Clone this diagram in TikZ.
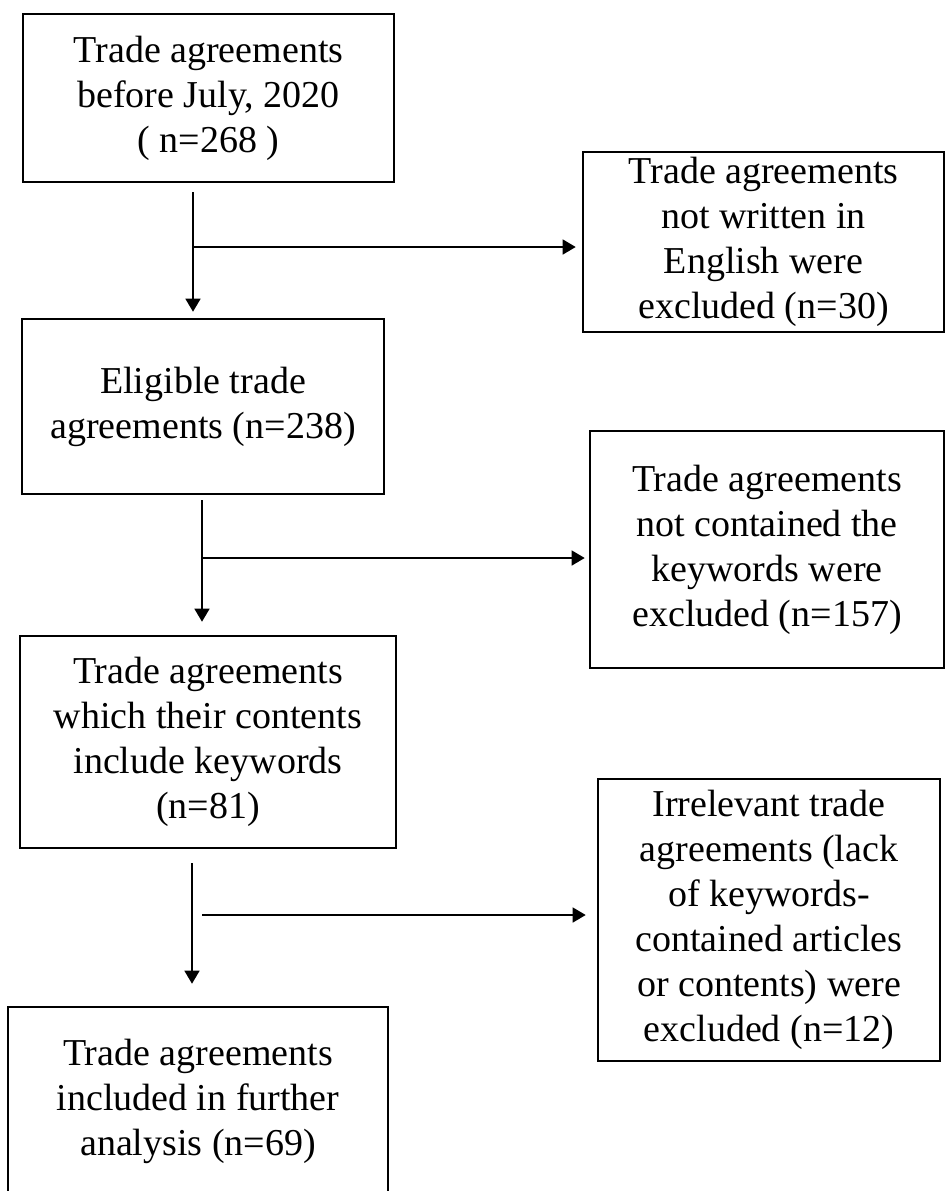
\documentclass[tikz,border=0pt]{standalone}
\usepackage{fontspec}
\setmainfont{Liberation Serif}
\usetikzlibrary{arrows.meta}

\begin{document}
\begin{tikzpicture}[x=0.5pt, y=-0.5pt, every node/.style={font=\fontsize{19}{22.5}\selectfont},
  stage/.style={draw, line width=1.3pt, align=center, inner xsep=2pt, inner ysep=0pt},
  flow/.style={-{Triangle[length=6.5pt, width=7.5pt]}, line width=0.7pt}]
  \useasboundingbox[fill=white] (0,0) rectangle (945,1191);
  \node[stage, minimum width=185.5pt, minimum height=84pt] (start) at (208.5,98) {Trade agreements\\before July, 2020\\( n=268 )};
  \node[stage, minimum width=181pt, minimum height=87.5pt] (eligible) at (203,406.5) {Eligible trade\\agreements (n=238)};
  \node[stage, minimum width=188pt, minimum height=106pt] (keywords) at (208,742) {Trade agreements\\which their contents\\include keywords\\(n=81)};
  \node[stage, minimum width=190pt, minimum height=94.5pt] (included) at (198,1101.5) {Trade agreements\\included in further\\analysis (n=69)};
  \node[stage, minimum width=180.5pt, minimum height=90pt] (nonenglish) at (763.5,242) {Trade agreements\\not written in\\English were\\excluded (n=30)};
  \node[stage, minimum width=177pt, minimum height=118.5pt] (nokeys) at (767,549.5) {Trade agreements\\not contained the\\keywords were\\excluded (n=157)};
  \node[stage, minimum width=171pt, minimum height=141pt] (irrelevant) at (769,920) {Irrelevant trade\\agreements (lack\\of keywords-\\contained articles\\or contents) were\\excluded (n=12)};
  \coordinate (split1) at (193,247);
  \coordinate (split2) at (202,558);
  \coordinate (split3) at (192,915);
  \coordinate (branch3) at (202,915);
  \draw[flow, shorten <=4.5pt, shorten >=3pt] (split1 |- start.south) -- (split1 |- eligible.north);
  \draw[flow, shorten >=3pt] (split1) -- (split1 -| nonenglish.west);
  \draw[flow, shorten <=2.5pt, shorten >=6.5pt] (split2 |- eligible.south) -- (split2 |- keywords.north);
  \draw[flow, shorten >=2pt] (split2) -- (split2 -| nokeys.west);
  \draw[flow, shorten <=7pt, shorten >=11pt] (split3 |- keywords.south) -- (split3 |- included.north);
  \draw[flow, shorten >=5.5pt] (branch3) -- (branch3 -| irrelevant.west);
\end{tikzpicture}
\end{document}
